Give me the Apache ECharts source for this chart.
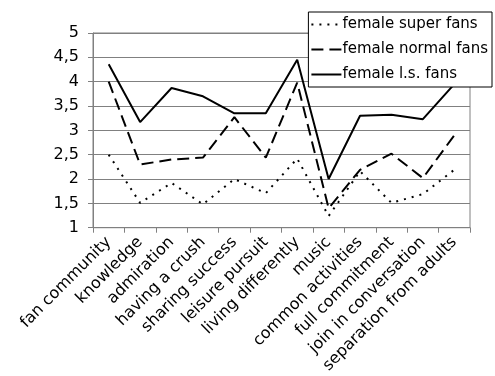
<!DOCTYPE html>
<html>
<head>
<meta charset="utf-8">
<script src="https://cdn.jsdelivr.net/npm/echarts@6/dist/echarts.min.js"></script>
<style>
  html, body { margin: 0; padding: 0; background: #fff; }
  #chart { width: 495px; height: 376px; }
</style>
</head>
<body>
<div id="chart"></div>
<script>
const categories = [
  'fan community', 'knowledge', 'admiration', 'having a crush',
  'sharing success', 'leisure pursuit', 'living differently', 'music',
  'common activities', 'full commitment', 'join in conversation', 'separation from adults'
];
const superFans  = [2.5, 1.51, 1.92, 1.48, 2.0, 1.71, 2.42, 1.24, 2.16, 1.51, 1.69, 2.19];
const normalFans = [4.0, 2.3, 2.4, 2.44, 3.27, 2.44, 3.98, 1.4, 2.19, 2.52, 2.02, 2.9];
const lsFans     = [4.36, 3.17, 3.87, 3.7, 3.35, 3.35, 4.45, 2.0, 3.3, 3.32, 3.23, 3.95];
const seriesNames = ['female super fans', 'female normal fans', 'female l.s. fans'];

const font = 'DejaVu Sans, Arial, sans-serif';
const chart = echarts.init(document.getElementById('chart'), null, { renderer: 'canvas' });

function lineSeries(name, data, dash) {
  return {
    name: name,
    type: 'line',
    data: data,
    symbol: 'none',
    z: 3,
    lineStyle: { color: '#000', width: 2, type: dash },
    itemStyle: { color: '#000' }
  };
}

chart.setOption({
  animation: false,
  backgroundColor: '#fff',
  grid: {
    left: 93, right: 25, top: 33, bottom: 145,
    show: true, borderColor: '#808080', borderWidth: 1
  },
  legend: {
    right: 3, top: 12,
    orient: 'vertical',
    backgroundColor: '#fff',
    borderColor: '#000',
    borderWidth: 1,
    padding: [5, 4, 5, 2],
    itemGap: 10,
    itemWidth: 30,
    itemHeight: 14,
    itemStyle: { color: 'transparent', borderWidth: 0 },
    textStyle: { fontFamily: font, fontSize: 15, color: '#000', padding: [0, 0, 0, -4] },
    data: seriesNames
  },
  xAxis: {
    type: 'category',
    data: categories,
    boundaryGap: true,
    axisLine: { lineStyle: { color: '#808080', width: 1 } },
    axisTick: { show: true, length: 5, lineStyle: { color: '#808080' } },
    axisLabel: { rotate: 45, fontFamily: font, fontSize: 16, color: '#000', margin: 12 }
  },
  yAxis: {
    type: 'value',
    min: 1, max: 5, interval: 0.5,
    axisLine: { show: true, lineStyle: { color: '#808080', width: 1 } },
    axisTick: { show: true, length: 5, lineStyle: { color: '#808080' } },
    splitLine: { lineStyle: { color: '#808080', width: 1 } },
    axisLabel: {
      fontFamily: font, fontSize: 16, color: '#000', margin: 14,
      formatter: v => String(v).replace('.', ',')
    }
  },
  series: [
    lineSeries(seriesNames[0], superFans, [2, 6]),
    lineSeries(seriesNames[1], normalFans, [12, 6]),
    lineSeries(seriesNames[2], lsFans, 'solid')
  ]
});
</script>
</body>
</html>
